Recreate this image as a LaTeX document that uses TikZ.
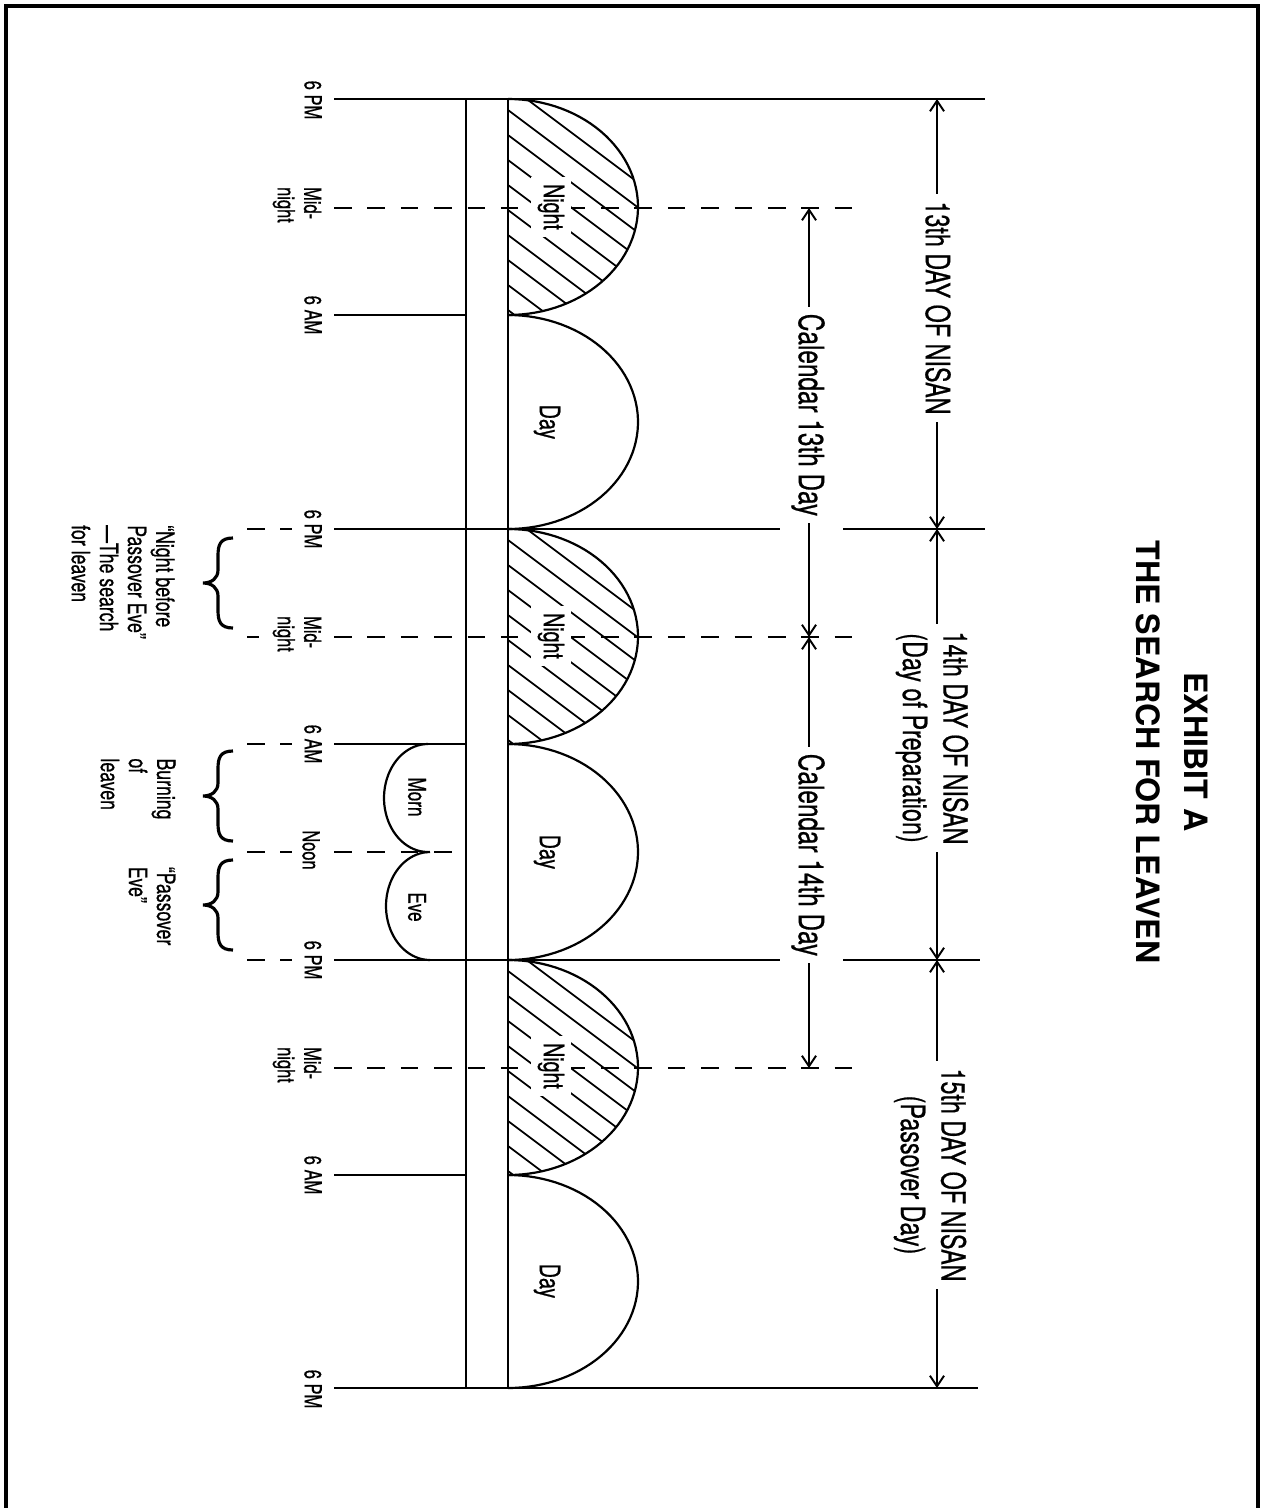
\documentclass[tikz,border=0pt]{standalone}
\usepackage{fontspec}
\setmainfont{TeX Gyre Heros}
\newfontfamily\condf{TeX Gyre Heros}[FakeStretch=0.7,FakeBold=0.6]
\usetikzlibrary{arrows.meta}
\newcommand\halfell[2]{plot[domain=-90:90,samples=60] ({508+130*cos(\x)},{(#1+#2)/2+(#2-#1)/2*sin(\x)})}
\newcommand\hatchfill[2]{%
  \begin{scope}
    \clip \halfell{#1}{#2} -- cycle;
    \foreach \k in {0,...,15} \draw[hatch] (500,{#1-120+\k*25}) -- (660,{#1+\k*25});
  \end{scope}}
\begin{document}
\begin{tikzpicture}[x=0.02cm,y=-0.02cm,
  tline/.style={line width=1.25pt},
  dline/.style={line width=1.25pt,dash pattern=on 10pt off 9pt},
  barline/.style={line width=1.7pt},
  hatch/.style={line width=1pt},
  dimarr/.style={line width=1.1pt,{Straight Barb[length=6pt,width=8pt]}-{Straight Barb[length=6pt,width=8pt]}},
  tlab/.style={rotate=-90,inner sep=0pt,align=left,font=\condf\fontsize{13.4}{15}\selectfont},
  slab/.style={rotate=-90,inner sep=0pt,font=\condf\fontsize{16}{18}\selectfont},
  mlab/.style={rotate=-90,inner sep=0pt,font=\condf\fontsize{13.9}{16}\selectfont},
  dlab/.style={rotate=-90,fill=white,inner xsep=4pt,inner ysep=1pt,align=center,font=\condf\fontsize{19}{23}\selectfont},
  clab/.style={rotate=-90,fill=white,inner xsep=4pt,inner ysep=1pt,font=\condf\fontsize{19.8}{22}\selectfont},
  alab/.style={rotate=-90,inner sep=0pt,align=left,font=\condf\fontsize{14.4}{16}\selectfont},
  ttl/.style={rotate=-90,inner sep=0pt,align=center,font=\bfseries\fontsize{18.3}{27}\selectfont},
  lbrace/.pic={\draw[line width=1.8pt] (0,0) .. controls (-13,0) and (-15,7) .. (-15,18) -- (-15,32) .. controls (-15,40) and (-21,45) .. (-30,45) .. controls (-21,45) and (-15,50) .. (-15,58) -- (-15,72) .. controls (-15,83) and (-13,90) .. (0,90);}
]
\useasboundingbox (0,0) rectangle (1263,1508);
% frame
\draw[line width=2.3pt] (6,1508) -- (6,6) -- (1258,6) -- (1258,1508);

% title
\node[ttl] (title) at (1172,752) {EXHIBIT A\\THE SEARCH FOR LEAVEN};

% hour lines
\draw[tline] (334,99) -- (985,99);
\draw[dline] (334,208) -- (855,208);
\draw[tline] (334,315) -- (466,315);
\draw[tline] (334,529) -- (780,529);
\draw[tline] (843,529) -- (985,529);
\draw[dline] (247,529) -- (292,529);
\draw[dline] (334,637) -- (852,637);
\draw[dline] (247,637) -- (259,637);
\draw[tline] (334,744) -- (466,744);
\draw[dline] (247,744) -- (292,744);
\draw[dline] (334,852) -- (458,852);
\draw[dline] (247,852) -- (292,852);
\draw[tline] (334,960) -- (780,960);
\draw[tline] (843,960) -- (980,960);
\draw[dline] (247,960) -- (292,960);
\draw[dline] (334,1068) -- (852,1068);
\draw[tline] (334,1175) -- (466,1175);
\draw[tline] (334,1388) -- (978,1388);

% bar
\draw[barline] (466,99) -- (466,1388);
\draw[barline] (508,99) -- (508,1388);

% night / day half ellipses
\hatchfill{99}{315}
\hatchfill{529}{744}
\hatchfill{960}{1175}
\draw[tline] \halfell{99}{315};
\draw[tline] \halfell{315}{529};
\draw[tline] \halfell{529}{744};
\draw[tline] \halfell{744}{960};
\draw[tline] \halfell{960}{1175};
\draw[tline] \halfell{1175}{1388};
\node[slab,fill=white,inner sep=4pt] (night1) at (551,207) {Night};
\node[slab,fill=white,inner sep=4pt] (night2) at (551,636) {Night};
\node[slab,fill=white,inner sep=4pt] (night3) at (551,1066) {Night};
\node[slab] (day1) at (547,422) {Day};
\node[slab] (day2) at (547,852) {Day};
\node[slab] (day3) at (547,1281) {Day};

% morn / eve
\draw[tline] plot[domain=90:270,samples=40] ({428+44*cos(\x)},{798+54*sin(\x)});
\draw[tline] plot[domain=90:270,samples=40] ({430+44*cos(\x)},{906+54*sin(\x)});
\node[mlab] (morn) at (417,797) {Morn};
\node[mlab] (eve) at (417,907) {Eve};

% dimension arrows
\coordinate (n0) at (937,99);
\coordinate (n1) at (937,529);
\coordinate (n2) at (937,960);
\coordinate (n3) at (937,1388);
\coordinate (c0) at (809,208);
\coordinate (c1) at (809,637);
\coordinate (c2) at (809,1068);
\draw[dimarr] (n0) -- (n1);
\draw[dimarr] (n1) -- (n2);
\draw[dimarr] (n2) -- (n3);
\draw[dimarr] (c0) -- (c1);
\draw[dimarr] (c1) -- (c2);
\node[dlab] (l13) at (938,308) {13th DAY OF NISAN};
\node[dlab] (l14) at (932,738) {14th DAY OF NISAN\\(Day of Preparation)};
\node[dlab] (l15) at (930,1175) {15th DAY OF NISAN\\(Passover Day)};
\node[clab] (k13) at (808,415) {Calendar 13th Day};
\node[clab] (k14) at (808,855) {Calendar 14th Day};

% time labels
\node[tlab] (t0) at (313,100) {6 PM};
\node[tlab] (t1) at (297,205) {Mid-\\night};
\node[tlab] (t2) at (313,315) {6 AM};
\node[tlab] (t4) at (313,529) {6 PM};
\node[tlab] (t5) at (297,634) {Mid-\\night};
\node[tlab] (t6) at (313,744) {6 AM};
\node[tlab] (t7) at (311,850) {Noon};
\node[tlab] (t8) at (313,960) {6 PM};
\node[tlab] (t9) at (297,1065) {Mid-\\night};
\node[tlab] (t10) at (313,1175) {6 AM};
\node[tlab] (t12) at (313,1389) {6 PM};

% braces and notes
\pic at (233,538) {lbrace};
\pic at (233,751) {lbrace};
\pic at (233,860) {lbrace};
\node[alab] (note1) at (123,582) {“Night before\\Passover Eve”\\—The search\\for leaven};
\node[alab] (note2) at (138,789) {Burning\\of\\leaven};
\node[alab] (note3) at (152,906) {“Passover\\Eve”};
\end{tikzpicture}
\end{document}
